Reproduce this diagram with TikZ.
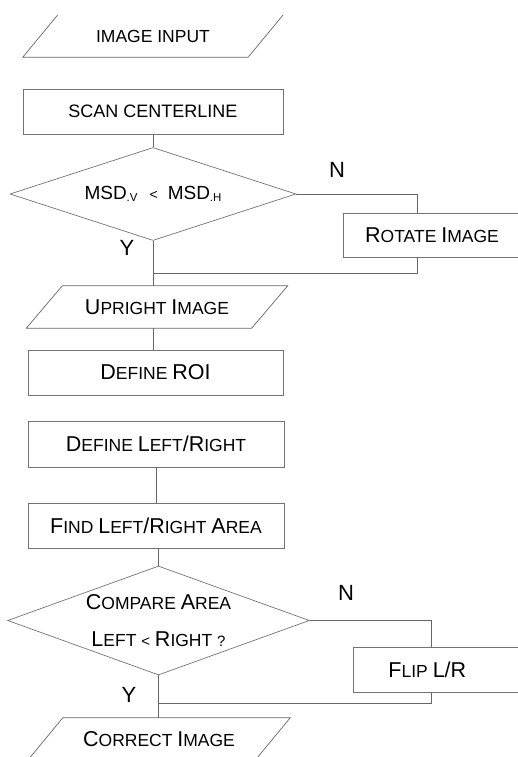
\documentclass[tikz,border=0pt]{standalone}
\usepackage{fontspec}
\setmainfont{Liberation Sans}
\usetikzlibrary{shapes.geometric}
\newcommand{\Bg}[1]{{\fontsize{21.5}{22}\selectfont #1}}
\newcommand{\Sm}[1]{{\fontsize{17.5}{18}\selectfont #1}}
\newcommand{\Sb}[1]{\raisebox{-2pt}{\fontsize{11.5}{11.5}\selectfont .#1}}
\begin{document}
\begin{tikzpicture}[x=1pt,y=-1pt,
  every node/.style={font=\fontsize{17.5}{18}\selectfont},
  ln/.style={draw=black!60, line width=0.7pt},
  box/.style={rectangle, draw=black!55, line width=0.7pt, inner sep=0pt},
  io/.style={rectangle, inner sep=0pt, minimum width=225pt, minimum height=42pt},
  dec/.style={diamond, draw=black!55, line width=0.7pt, inner sep=0pt, shape aspect=3, align=center},
  lbl/.style={font=\fontsize{22}{22}\selectfont, inner sep=0pt}]
\useasboundingbox (0,0) rectangle (518,757);
\clip (0,0) rectangle (518,757);

% nodes
\node[io] (in) at (153,36) {IMAGE INPUT};
\draw[ln] ([xshift=17.5pt]in.north east) -- ([xshift=-17.5pt]in.south east)
  -- ([xshift=-17.5pt]in.south west) -- ([xshift=17.5pt]in.north west);

\node[box, minimum width=260pt, minimum height=45pt, font=\fontsize{18}{18}\selectfont] (scan) at (153,111.5)
  {SCAN CENTERLINE};

\node[dec, minimum width=286pt, minimum height=93pt, font=\fontsize{19}{19}\selectfont] (d1) at (153,194)
  {MSD\Sb{V}\hspace{12pt}{\fontsize{14}{14}\selectfont <}\hspace{10pt}MSD\Sb{H}};

\node[box, minimum width=178pt, minimum height=44pt] (rot) at (432,235)
  {\Bg{R}\Sm{OTATE} \Bg{I}\Sm{MAGE}};

\node[io] (up) at (157,307) {\Bg{U}\Sm{PRIGHT} \Bg{I}\Sm{MAGE}};
\draw[ln] ([xshift=18pt]up.north west) -- ([xshift=18pt]up.north east)
  -- ([xshift=-18pt]up.south east) -- ([xshift=-18pt]up.south west) -- cycle;

\node[box, minimum width=255pt, minimum height=45pt] (roi) at (155.5,372.5)
  {\Bg{D}\Sm{EFINE} \Bg{ROI}};

\node[box, minimum width=256pt, minimum height=46pt] (dlr) at (156,444)
  {\Bg{D}\Sm{EFINE} \Bg{L}\Sm{EFT}\Bg{/R}\Sm{IGHT}};

\node[box, minimum width=256pt, minimum height=45pt] (find) at (156,525.5)
  {\Bg{F}\Sm{IND} \Bg{L}\Sm{EFT}\Bg{/R}\Sm{IGHT} \Bg{A}\Sm{REA}};

\node[dec, minimum width=287pt, minimum height=109pt, font=\fontsize{17.5}{37}\selectfont] (d2) at (158.5,620.5)
  {\Bg{C}\Sm{OMPARE} \Bg{A}\Sm{REA}\\ \Bg{L}\Sm{EFT} {\fontsize{15}{15}\selectfont <} \Bg{R}\Sm{IGHT} {\fontsize{15}{15}\selectfont ?}};

\node[box, minimum width=175pt, minimum height=45pt, anchor=west] (flip) at (353,669.5)
  {\hspace*{-27pt}\Bg{F}\Sm{LIP} \Bg{L/R}};

\node[io, minimum width=227pt] (corr) at (159,739) {\Bg{C}\Sm{ORRECT} \Bg{I}\Sm{MAGE}};
\draw[ln] ([xshift=17.5pt]corr.north west) -- ([xshift=17.5pt]corr.north east)
  -- ([xshift=-17.5pt]corr.south east) -- ([xshift=-17.5pt]corr.south west) -- cycle;

% labels
\node[lbl] (n1) at (337,170) {N};
\node[lbl] (y1) at (127,248) {Y};
\node[lbl] (n2) at (346,593) {N};
\node[lbl] (y2) at (129,695) {Y};

% helper coordinates
\coordinate (rx) at (417,0);
\coordinate (fx) at (431,0);
\coordinate (j1) at (153,273);
\coordinate (j2) at (158.5,703);

% connectors
\draw[ln] (scan.south) -- (d1.north);
\draw[ln] (d1.east) -| (rx |- rot.north);
\draw[ln] (rx |- rot.south) |- (j1);
\draw[ln] (d1.south) -- (d1.south |- up.north);
\draw[ln] (d1.south |- up.south) -- (d1.south |- roi.north);
\draw[ln] (dlr.south) -- (find.north);
\draw[ln] (d2.north |- find.south) -- (d2.north);
\draw[ln] (d2.east) -| (fx |- flip.north);
\draw[ln] (fx |- flip.south) |- (j2);
\draw[ln] (d2.south) -- (d2.south |- corr.north);
\end{tikzpicture}
\end{document}
